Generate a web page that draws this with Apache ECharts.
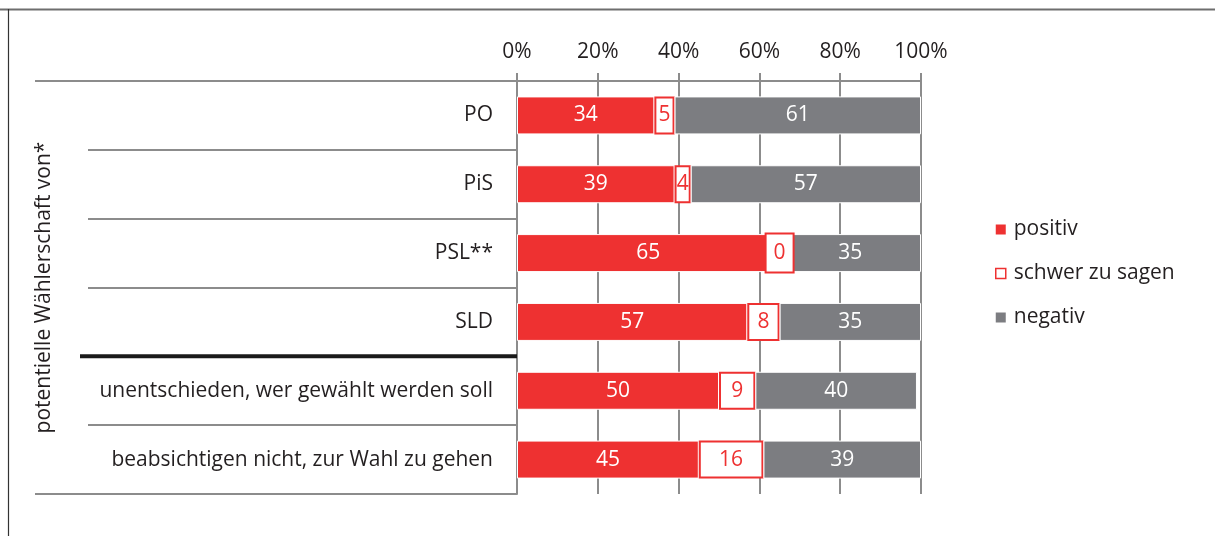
<!DOCTYPE html>
<html>
<head>
<meta charset="utf-8">
<title>Wählerschaft</title>
<script src="https://cdn.jsdelivr.net/npm/echarts@6/dist/echarts.min.js"></script>
<style>
  html, body { margin: 0; padding: 0; background: #fff; }
  #chart { width: 1215px; height: 536px; }
</style>
</head>
<body>
<div id="chart"></div>
<script>
// Daten
const categories = [
  'PO',
  'PiS',
  'PSL**',
  'SLD',
  'unentschieden, wer gewählt werden soll',
  'beabsichtigen nicht, zur Wahl zu gehen'
];
const positiv = [34, 39, 65, 57, 50, 45];
const schwer = [5, 4, 0, 8, 9, 16];
const negativ = [61, 57, 35, 35, 40, 39];
const seriesNames = ['positiv', 'schwer zu sagen', 'negativ'];
const axisName = 'potentielle Wählerschaft von*';

const RED = '#ee3131';
const GREY = '#7c7d81';
const LINE = '#8c8c8c';
const TEXT = '#231f20';
const FONT = 'Open Sans';
const FS = 21;

const chart = echarts.init(document.getElementById('chart'));

// "0" bekommt eine Box wie die anderen Mittelwerte
const schwerData = schwer.map(v => {
  if (v !== 0) return v;
  return {
    value: v,
    label: {
      backgroundColor: '#fff',
      borderColor: RED,
      borderWidth: 2,
      padding: [8, 7, 8, 7]
    }
  };
});

const option = {
  animation: false,
  textStyle: { fontFamily: FONT },
  grid: { left: 517, right: 294, top: 81, bottom: 42, containLabel: false },
  legend: {
    orient: 'vertical',
    left: 990,
    top: 212,
    itemWidth: 10,
    itemHeight: 10,
    itemGap: 19,
    textStyle: { fontSize: FS, color: TEXT, fontFamily: FONT, lineHeight: 25, padding: [0, 0, 0, 3] },
    data: [
      { name: seriesNames[0], icon: 'rect', itemStyle: { color: RED, borderWidth: 0 } },
      { name: seriesNames[1], icon: 'rect', itemStyle: { color: '#fff', borderColor: RED, borderWidth: 1.5 } },
      { name: seriesNames[2], icon: 'rect', itemStyle: { color: GREY, borderWidth: 0 } }
    ]
  },
  xAxis: {
    type: 'value',
    position: 'top',
    min: 0,
    max: 100,
    interval: 20,
    axisLine: { show: true, lineStyle: { color: LINE, width: 2 } },
    axisTick: { show: true, length: 8, lineStyle: { color: LINE, width: 2 } },
    axisLabel: { formatter: '{value}%', fontSize: FS, color: TEXT, margin: 18, fontFamily: FONT },
    splitLine: { show: true, lineStyle: { color: LINE, width: 2 } }
  },
  yAxis: {
    type: 'category',
    inverse: true,
    data: categories,
    name: axisName,
    nameLocation: 'middle',
    nameRotate: 90,
    nameGap: 462,
    nameTextStyle: { fontSize: FS, color: TEXT, fontFamily: FONT },
    axisLine: { show: true, lineStyle: { color: LINE, width: 2 } },
    axisTick: { show: true, length: 429, lineStyle: { color: LINE, width: 2 } },
    axisLabel: { fontSize: FS, color: TEXT, margin: 24, fontFamily: FONT },
    splitLine: { show: false }
  },
  series: [
    {
      name: seriesNames[0],
      type: 'bar',
      stack: 'all',
      barWidth: 38,
      data: positiv,
      itemStyle: { color: RED, borderColor: '#fff', borderWidth: 1 },
      label: { show: true, position: 'inside', color: '#fff', fontSize: FS, fontFamily: FONT }
    },
    {
      name: seriesNames[1],
      type: 'bar',
      stack: 'all',
      barWidth: 38,
      data: schwerData,
      itemStyle: { color: '#fff', borderColor: RED, borderWidth: 2 },
      label: { show: true, position: 'inside', color: RED, fontSize: FS, fontFamily: FONT }
    },
    {
      name: seriesNames[2],
      type: 'bar',
      stack: 'all',
      barWidth: 38,
      data: negativ,
      itemStyle: { color: GREY, borderColor: '#fff', borderWidth: 1 },
      label: { show: true, position: 'inside', color: '#fff', fontSize: FS, fontFamily: FONT }
    }
  ]
};

chart.setOption(option);

// Rahmen und Trennlinien links aus den Achsenpositionen
function drawExtras() {
  const x0 = chart.convertToPixel({ xAxisIndex: 0 }, 0);
  const c0 = chart.convertToPixel({ yAxisIndex: 0 }, categories[0]);
  const c1 = chart.convertToPixel({ yAxisIndex: 0 }, categories[1]);
  const band = c1 - c0;
  const topY = c0 - band / 2;
  const bottomY = topY + band * categories.length;
  const splitY = topY + band * 4; // zwischen SLD und unentschieden

  chart.setOption({
    graphic: [
      { type: 'line', z: 100, shape: { x1: 0, y1: 9.5, x2: 1215, y2: 9.5 }, style: { stroke: '#6e6e6e', lineWidth: 2 }, silent: true },
      { type: 'line', z: 100, shape: { x1: 8.5, y1: 9, x2: 8.5, y2: 536 }, style: { stroke: '#333', lineWidth: 1.2 }, silent: true },
      { type: 'line', z: 100, shape: { x1: 35, y1: topY, x2: x0, y2: topY }, style: { stroke: LINE, lineWidth: 2 }, silent: true },
      { type: 'line', z: 100, shape: { x1: 35, y1: bottomY, x2: x0, y2: bottomY }, style: { stroke: LINE, lineWidth: 2 }, silent: true },
      { type: 'line', z: 100, shape: { x1: 80, y1: splitY, x2: x0, y2: splitY }, style: { stroke: '#1a1a1a', lineWidth: 4 }, silent: true }
    ]
  });
}
drawExtras();
</script>
</body>
</html>
